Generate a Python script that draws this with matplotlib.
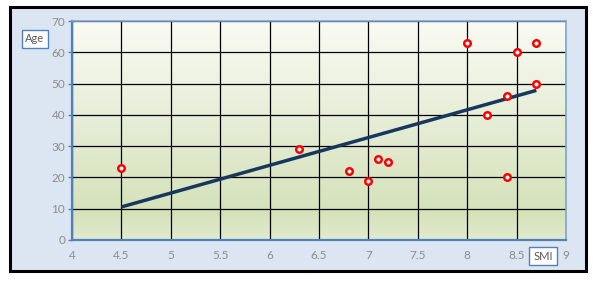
import matplotlib
matplotlib.use("Agg")
import matplotlib.pyplot as plt
import numpy as np
from matplotlib.colors import LinearSegmentedColormap
from matplotlib.patches import Rectangle

plt.rcParams["font.family"] = ["Lato", "DejaVu Sans"]

# data
smi = [4.5, 6.3, 6.8, 7.0, 7.1, 7.2, 8.0, 8.2, 8.4, 8.4, 8.5, 8.7, 8.7]
age = [23, 29, 22, 19, 26, 25, 63, 40, 46, 20, 60, 63, 50]
x_ticks = [4, 4.5, 5, 5.5, 6, 6.5, 7, 7.5, 8, 8.5, 9]
y_ticks = [0, 10, 20, 30, 40, 50, 60, 70]

fig = plt.figure(figsize=(5.93, 2.82), dpi=100)
fig.patch.set_facecolor("white")

# outer chart area with black frame
fig.patches.append(Rectangle((10 / 593, 11 / 282), 576 / 593, 264 / 282,
                             transform=fig.transFigure, facecolor="#DCE6F2",
                             edgecolor="black", linewidth=2.2, zorder=-5))

ax = fig.add_axes([72 / 593, 42 / 282, 494 / 593, 219 / 282])
ax.set_xlim(4, 9)
ax.set_ylim(0, 70)

# gradient fill of the plot area
cmap = LinearSegmentedColormap.from_list(
    "moss", [(0, "#E2EBCF"), (0.12, "#D5E2B9"), (0.5, "#E4ECD3"), (1, "#FAFBF4")])
grad = np.linspace(0, 1, 256).reshape(-1, 1)
ax.imshow(grad, extent=[4, 9, 0, 70], origin="lower", aspect="auto",
          cmap=cmap, zorder=0)

ax.set_xticks(x_ticks)
ax.set_yticks(y_ticks)
ax.set_xticklabels([f"{t:g}" for t in x_ticks])
ax.grid(True, color="black", linewidth=0.9, zorder=1)
ax.set_axisbelow(True)

for s in ax.spines.values():
    s.set_color("#7EA6D8")
    s.set_linewidth(1.2)
ax.spines["left"].set_linewidth(1.6)
ax.spines["bottom"].set_linewidth(1.6)
ax.spines["left"].set_color("#4F81BD")
ax.spines["bottom"].set_color("#4F81BD")

ax.tick_params(axis="y", colors="#4F81BD", length=3, width=1, labelcolor="#8C8C8C",
               labelsize=8.5, pad=2)
ax.tick_params(axis="x", colors="#4F81BD", length=0, labelcolor="#8C8C8C",
               labelsize=8.5, pad=7)

# trendline (least squares)
k, b = np.polyfit(smi, age, 1)
xs = np.array([min(smi), max(smi)])
ax.plot(xs, k * xs + b, color="#17375E", linewidth=2.5, zorder=3,
        solid_capstyle="butt")

ax.scatter(smi, age, s=22, facecolor="white", edgecolor="red", linewidth=1.8,
           zorder=4)

bbox = dict(boxstyle="square,pad=0.35", facecolor="white", edgecolor="#4F81BD",
            linewidth=1)
fig.text(35 / 593, 1 - 39 / 282, "Age", ha="center", va="center", fontsize=8,
         color="#595959", bbox=bbox)
fig.text(543 / 593, 1 - 256 / 282, "SMI", ha="center", va="center", fontsize=8,
         color="#595959", bbox=bbox)

fig.savefig("out.png", dpi=100)
